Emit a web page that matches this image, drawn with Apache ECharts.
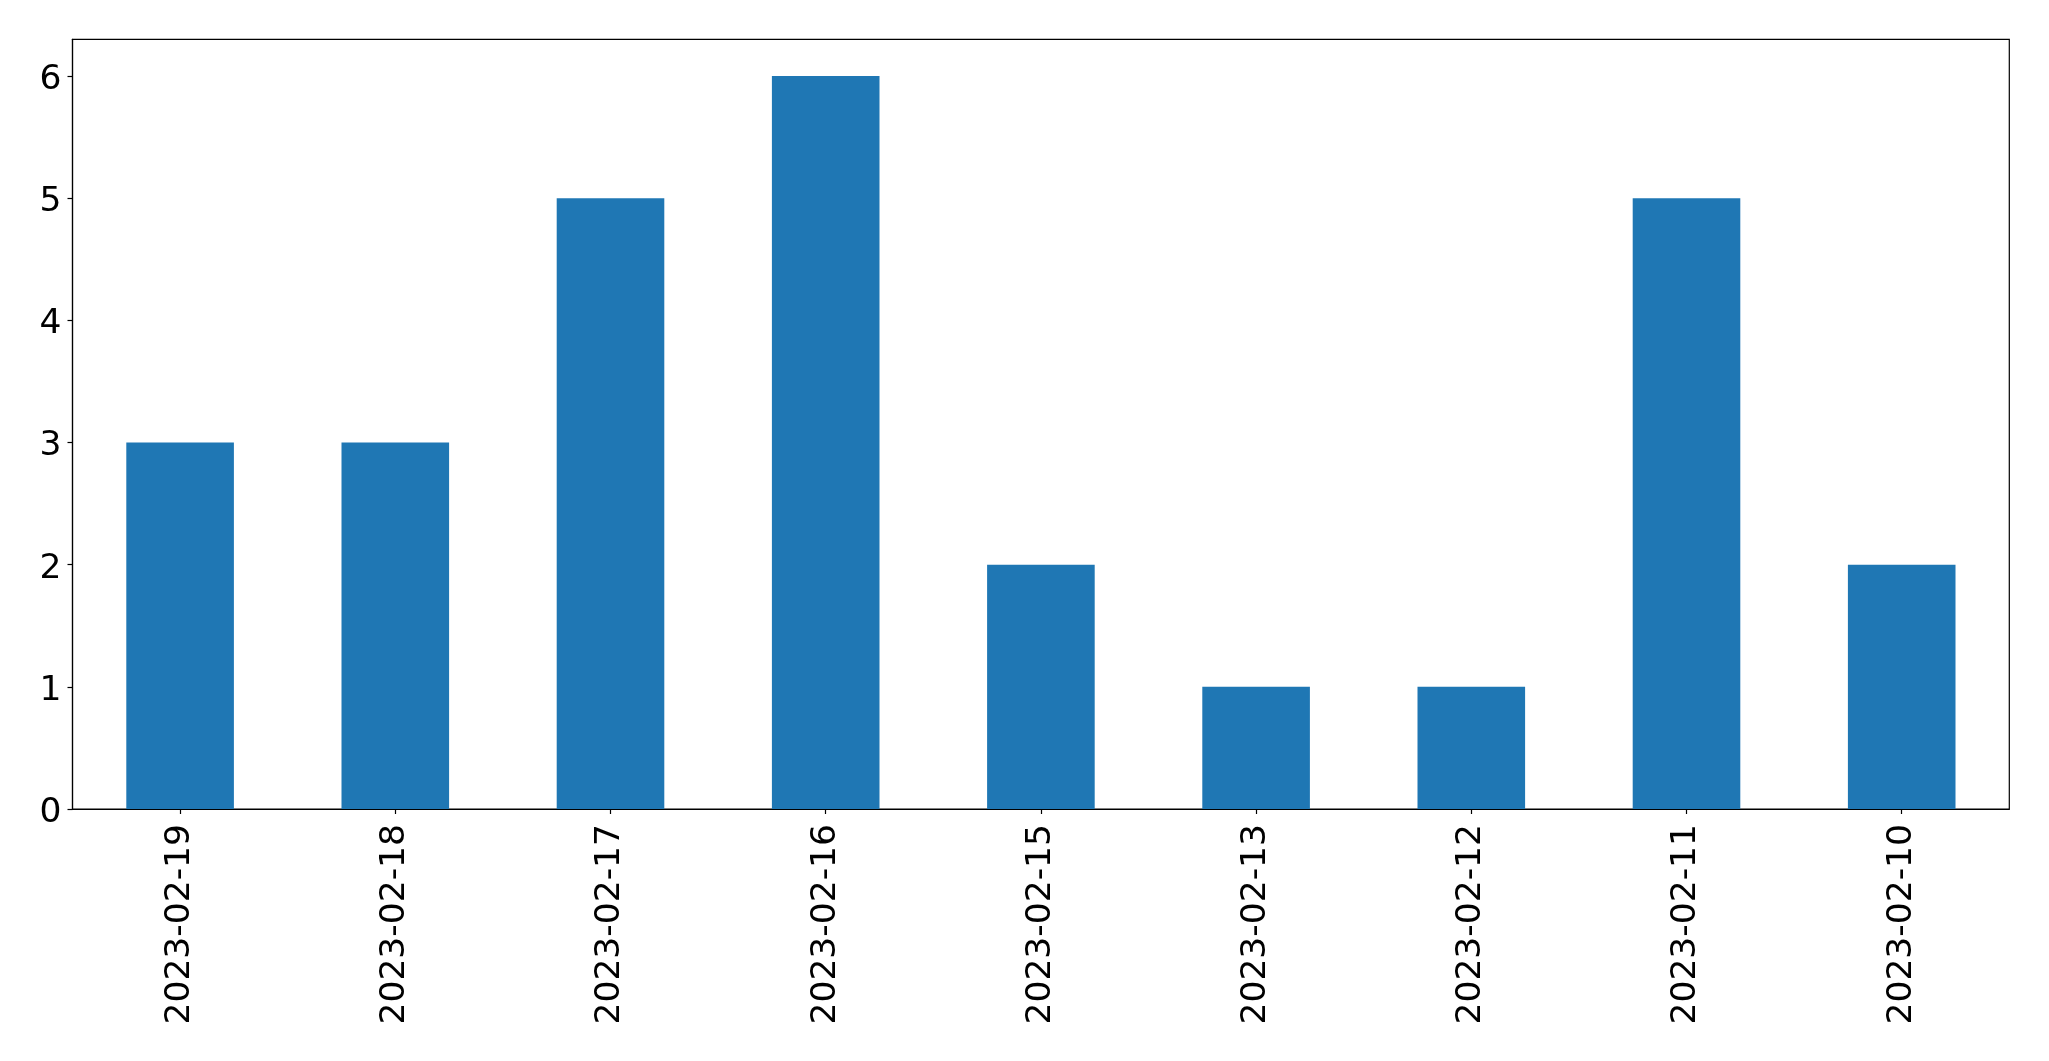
<!DOCTYPE html>
<html>
<head>
<meta charset="utf-8">
<script src="https://cdn.jsdelivr.net/npm/echarts@6/dist/echarts.min.js"></script>
<style>
html,body{margin:0;padding:0;background:#fff;}
#c{width:2049px;height:1061px;}
</style>
</head>
<body>
<div id="c"></div>
<script>
const categories = ['2023-02-19','2023-02-18','2023-02-17','2023-02-16','2023-02-15','2023-02-13','2023-02-12','2023-02-11','2023-02-10'];
const values = [3,3,5,6,2,1,1,5,2];
const yTicks = [0,1,2,3,4,5,6];

const chart = echarts.init(document.getElementById('c'), null, {renderer:'canvas'});
const font = 'DejaVu Sans';
chart.setOption({
  animation:false,
  backgroundColor:'#fff',
  grid:{left:72.5,right:39.7,top:39.3,bottom:252,show:true,borderColor:'#000',borderWidth:1.2,backgroundColor:'transparent'},
  xAxis:{
    type:'category',
    data:categories,
    boundaryGap:true,
    axisLine:{show:true,lineStyle:{color:'#000',width:1.2}},
    axisTick:{show:true,alignWithLabel:true,length:5,lineStyle:{color:'#000',width:1.2}},
    axisLabel:{rotate:90,fontFamily:font,fontSize:34.5,color:'#000',margin:15,interval:0},
    splitLine:{show:false}
  },
  yAxis:{
    type:'value',
    min:0,max:6.3,interval:1,
    axisLine:{show:true,lineStyle:{color:'#000',width:1.2}},
    axisTick:{show:true,length:5,customValues:yTicks,lineStyle:{color:'#000',width:1.2}},
    axisLabel:{
      margin:11,customValues:yTicks,
      formatter:function(v){return '{a|'+v+'}';},
      rich:{a:{fontFamily:font,fontSize:34.5,color:'#000',padding:[8,0,0,0]}}
    },
    splitLine:{show:false}
  },
  series:[{
    type:'bar',
    data:values,
    barWidth:'50%',
    itemStyle:{color:'#1f77b4'}
  }]
});
</script>
</body>
</html>
